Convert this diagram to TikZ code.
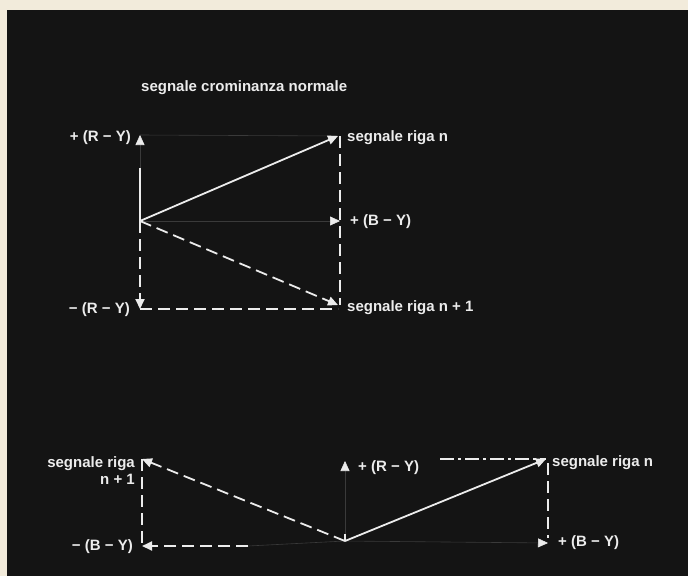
\documentclass[tikz,border=0pt]{standalone}
\usepackage{fontspec}
\setmainfont{Liberation Sans}
\usetikzlibrary{arrows.meta}
\definecolor{bg}{HTML}{141414}
\definecolor{paper}{HTML}{F2EBDB}
\definecolor{ink}{HTML}{ECECEC}
\definecolor{faint}{HTML}{3A3A3A}
\tikzset{
  lbl/.style={text=ink, font=\bfseries\fontsize{15}{17}\selectfont, inner sep=0pt},
  tip/.style={-{Triangle[length=10pt,width=9pt,color=ink]}},
  solidline/.style={draw=ink, line width=1.8pt},
  dashline/.style={draw=ink, line width=1.8pt, dash pattern=on 12pt off 6pt},
  dashdot/.style={draw=ink, line width=1.6pt, dash pattern=on 14pt off 4pt on 3pt off 4pt},
  faintline/.style={draw=faint, line width=0.6pt}
}
\begin{document}
\begin{tikzpicture}[x=1pt,y=-1pt]
\useasboundingbox (0,0) rectangle (688,576);
\fill[paper] (0,0) rectangle (688,576);
\fill[bg] (7,10) rectangle (688,576);

% ---- top diagram ----
\coordinate (O1) at (140,221);
\coordinate (Rp) at (140,135);
\coordinate (Rs) at (140,168);
\coordinate (Rm) at (140,309);
\coordinate (N) at (338,136);
\coordinate (N1) at (338,305);
\coordinate (Bp) at (340,221);
\coordinate (Ntop) at (340,136);
\coordinate (Nbot) at (340,305);

\draw[faintline] (Rp) -- (N);
\draw[faintline, tip] (O1) -- (Bp);
\draw[faintline, tip] (O1) -- (Rp);
\draw[solidline] (O1) -- (Rs);
\draw[solidline, tip] (O1) -- (N);
\draw[dashline, tip] (O1) -- (N1);
\draw[dashline, tip] (O1) -- (Rm);
\draw[dashline] (Rm) -- (N1 |- Rm);
\draw[dashline] (Ntop) -- (Nbot);

\node[lbl, anchor=west] (title) at (141,88) {segnale crominanza normale};
\node[lbl, anchor=east] (lRp) at (131,138) {+ (R − Y)};
\node[lbl, anchor=east] (lRm) at (130,310) {− (R − Y)};
\node[lbl, anchor=west] (lN) at (347,138) {segnale riga n};
\node[lbl, anchor=west] (lBp) at (350,222) {+ (B − Y)};
\node[lbl, anchor=west] (lN1) at (347,308) {segnale riga n + 1};

% ---- bottom diagram ----
\coordinate (O2) at (345,541);
\coordinate (R2) at (345,461);
\coordinate (M2) at (142,459);
\coordinate (Bm) at (142,546);
\coordinate (Bs) at (248,546);
\coordinate (N2) at (546,459);
\coordinate (Nd) at (440,459);
\coordinate (B2) at (548,543);
\coordinate (Vt) at (548,463);

\draw[faintline, tip] (O2) -- (R2);
\draw[faintline] (O2) -- (Bs);
\draw[faintline, tip] (O2) -- (B2);
\draw[solidline] (345,534) -- (O2);
\draw[dashline, tip] (O2) -- (M2);
\draw[dashline] (M2) -- (Bm);
\draw[dashline, tip] (Bs) -- (Bm);
\draw[solidline, tip] (O2) -- (N2);
\draw[dashdot] (Nd) -- (N2);
\draw[dashline] (Vt) -- (548,538);

\node[lbl, anchor=north east, align=right] (lM2) at (135,456) {segnale riga\\n + 1};
\node[lbl, anchor=east] (lBm) at (133,547) {− (B − Y)};
\node[lbl, anchor=west] (lR2) at (358,468) {+ (R − Y)};
\node[lbl, anchor=west] (lN2) at (552,463) {segnale riga n};
\node[lbl, anchor=west] (lB2) at (558,543) {+ (B − Y)};
\end{tikzpicture}
\end{document}
